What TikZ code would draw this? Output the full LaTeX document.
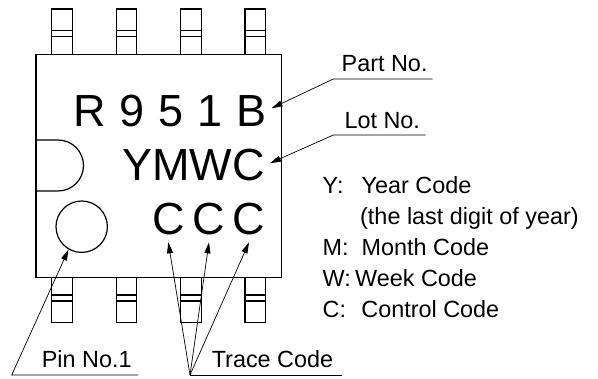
\documentclass[tikz,border=0pt]{standalone}
\usepackage{fontspec}
\setmainfont{Liberation Sans}
\usetikzlibrary{arrows.meta}
\tikzset{
pkg/.style={line width=1.2pt},
lead/.style={line width=0.7pt},
arr/.style={lead,-{Triangle[length=11pt,width=6pt]}},
bigtxt/.style={inner sep=0pt,font=\fontsize{45}{45}\selectfont,execute at begin node={\spaceskip=13.8pt\relax}},
smalltxt/.style={inner sep=0pt,font=\fontsize{23.4}{28}\selectfont}
}
\begin{document}
\begin{tikzpicture}[x=1pt,y=-1pt]
\useasboundingbox(0,0)rectangle(598,379);
\draw[pkg](36,54.5)rectangle(281.7,277.3);
\foreach \px in {62,126.4,190.8,255.2}{
\draw[pkg](\px-10.3,54.5)--(\px-10.3,9)--(\px+10.3,9)--(\px+10.3,54.5);
\draw[pkg](\px-10.3,30.7)--(\px+10.3,30.7)(\px-10.3,36.7)--(\px+10.3,36.7);
\draw[pkg](\px-10.3,277.3)--(\px-10.3,322.7)--(\px+10.3,322.7)--(\px+10.3,277.3);
\draw[pkg](\px-10.3,295)--(\px+10.3,295)(\px-10.3,301)--(\px+10.3,301);
}
\draw[pkg](36,140)--(58,140)arc[start angle=90,end angle=-90,radius=25.5pt]--(36,191);
\node[pkg,draw,circle,inner sep=0pt,minimum size=51.4pt](pin1)at(81.7,226.7){};
\node[bigtxt,anchor=base](r951)at(170,126.7){R 9 5 1 B};
\node[bigtxt,anchor=base east](ymwc)at(265,180.7){YMWC};
\node[bigtxt,anchor=base](c1)at(168.3,235){C};
\node[bigtxt,anchor=base](c2)at(209,235){C};
\node[bigtxt,anchor=base](c3)at(249,235){C};
\node[smalltxt,anchor=base west](partno)at(341.5,71.7){Part No.};
\node[smalltxt,anchor=base west](lotno)at(344.3,128.3){Lot No.};
\node[smalltxt,anchor=base](pin1txt)at(86.7,368){Pin No.1};
\node[smalltxt,anchor=base](tracetxt)at(272.5,368){Trace Code};
\coordinate(partk)at(333.3,79);
\coordinate(parte)at(432.7,79);
\coordinate(lotk)at(333.3,135);
\coordinate(lote)at(425.7,135);
\coordinate(pins)at(11.7,375);
\coordinate(pine)at(138.3,375);
\coordinate(tc)at(190,375);
\coordinate(tce)at(341.7,375);
\draw[arr](parte)--(partk)--([xshift=5pt,yshift=3pt]r951.east);
\draw[arr](lote)--(lotk)--([xshift=5pt,yshift=2pt]ymwc.east);
\draw[arr](pine)--(pins)--(pin1.-120);
\draw[lead](tce)--(tc);
\draw[arr](tc)--([yshift=-6.7pt]c1.south);
\draw[arr](tc)--([yshift=-6.7pt]c2.south);
\draw[arr](tc)--([yshift=-6.7pt]c3.south);
\node[smalltxt,anchor=base west](ykey)at(322.5,194){Y:};
\node[smalltxt,anchor=base west](ytxt)at(361.5,194){Year Code};
\node[smalltxt,anchor=base west](ytxt2)at(360,225){(the last digit of year)};
\node[smalltxt,anchor=base west](mkey)at(322.5,256){M:};
\node[smalltxt,anchor=base west](mtxt)at(361.5,256){Month Code};
\node[smalltxt,anchor=base west](wkey)at(322.5,287){W:};
\node[smalltxt,anchor=base west](wtxt)at(355,287){Week Code};
\node[smalltxt,anchor=base west](ckey)at(322.5,318){C:};
\node[smalltxt,anchor=base west](ctxt)at(361.2,318){Control Code};
\end{tikzpicture}
\end{document}
